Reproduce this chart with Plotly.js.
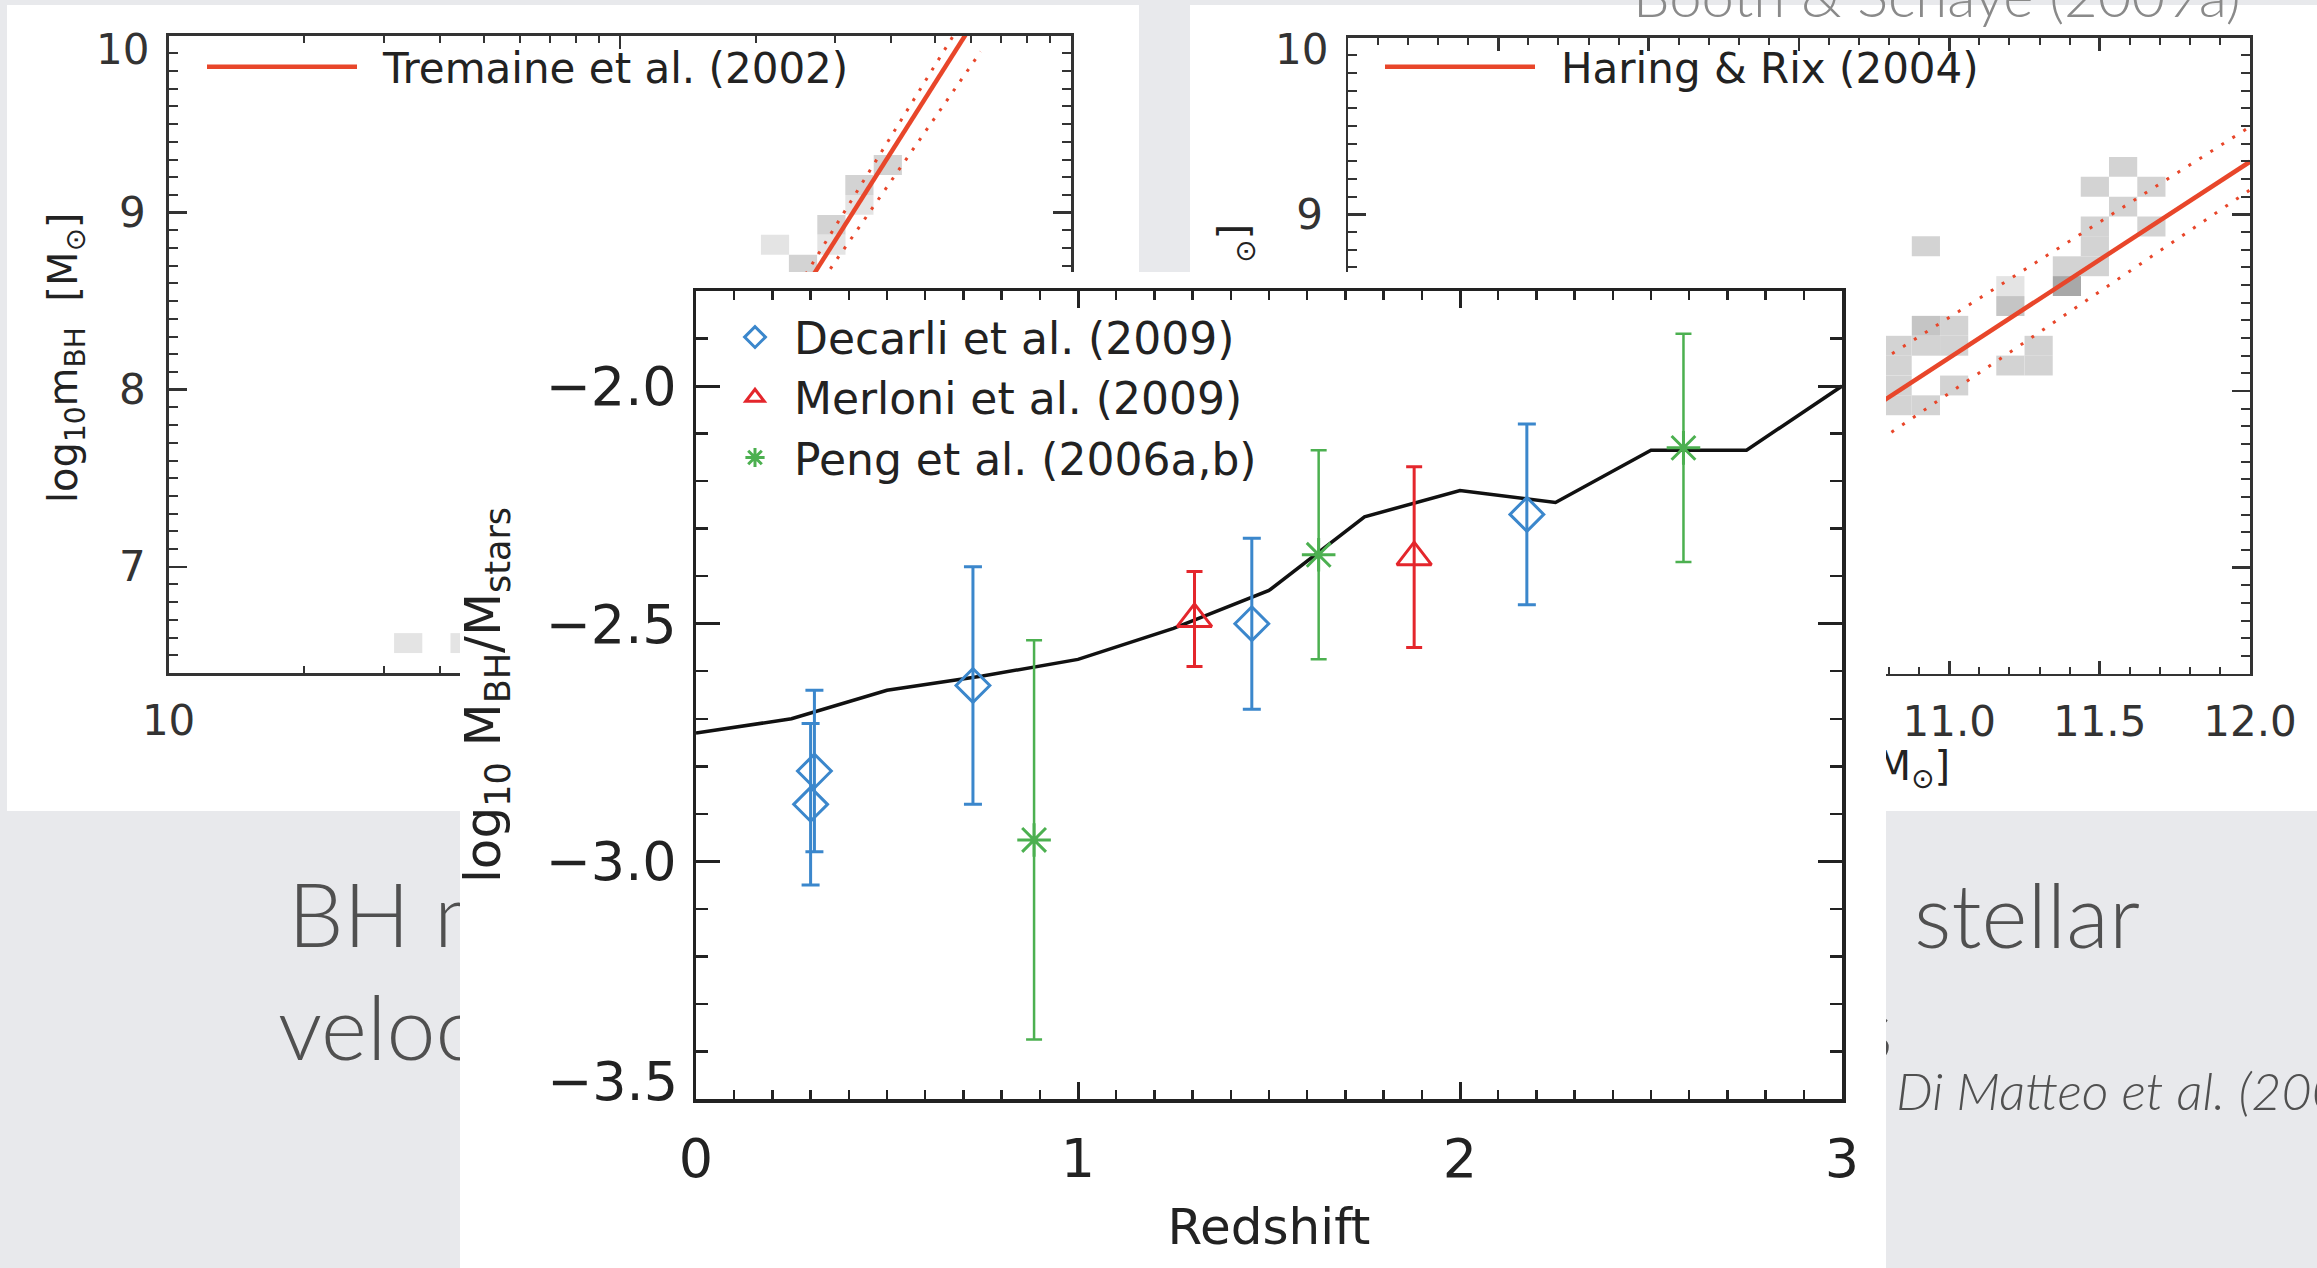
<!DOCTYPE html>
<html><head><meta charset="utf-8">
<script src="https://cdn.plot.ly/plotly-3.0.1.min.js"></script>
<style>html,body{margin:0;padding:0;background:#e8e9ec;overflow:hidden}</style>
</head><body><div id="chart" style="width:2317px;height:1268px"></div>
<script>
// ---------- main chart: BH / stellar mass ratio vs redshift ----------
const modelZ      = [0, 0.25, 0.5, 0.75, 1.0, 1.25, 1.5, 1.75, 2.0, 2.25, 2.5, 2.75, 3.0];
const modelRatio  = [-2.73, -2.70, -2.64, -2.61, -2.575, -2.51, -2.43, -2.275, -2.22, -2.245, -2.135, -2.135, -2.00];
const decarliZ     = [0.31, 0.30, 0.725, 1.455, 2.175];
const decarliRatio = [-2.81, -2.88, -2.63, -2.50, -2.27];
const decarliErr   = [0.17, 0.17, 0.25, 0.18, 0.19];
const merloniZ     = [1.305, 1.88];
const merloniRatio = [-2.49, -2.36];
const merloniErr   = [0.10, 0.19];
const pengZ        = [0.885, 1.63, 2.585];
const pengRatio    = [-2.955, -2.355, -2.13];
const pengErr      = [0.42, 0.22, 0.24];
const seriesNames  = ['Decarli et al. (2009)', 'Merloni et al. (2009)', 'Peng et al. (2006a,b)'];
const ratioTickVals = [-3.5, -3.0, -2.5, -2.0];
const ratioTickText = ['', '−3.0', '−2.5', '−2.0'];   // bottom label is lifted above the axis, as in the original

// ---------- background panel (left): M_BH - sigma ----------
const tremaineLogSigma = [2.30, 2.80];
const tremaineLogMbh   = [8.13, 10.14];
const tremaineUpper    = [8.19, 10.25];
const tremaineLower    = [8.07, 9.91];
const leftBinLogSigma  = [2.344, 2.406, 2.469, 2.469, 2.531, 2.531, 2.594, 1.531, 1.656];
const leftBinLogMbh    = [8.819, 8.706, 8.931, 8.819, 9.156, 9.044, 9.269, 6.569, 6.569];
const leftBinLevel     = [1, 2, 2, 1, 2, 1, 2, 1, 1];
const sigmaTickVals    = [1, 2, 3];
const sigmaTickText    = ['10', '', ''];               // 100 and 1000 lie under the front figure
const sigmaMinorTicks  = [1.30103, 1.47712, 1.60206, 1.69897, 1.77815, 1.84510, 1.90309, 1.95424,
                          2.30103, 2.47712, 2.60206, 2.69897, 2.77815, 2.84510, 2.90309, 2.95424];
const mbhTickVals      = [7, 8, 9, 10];
const mbhTickTextLeft  = ['7', '8', '9', ''];
const mbhTickTextRight = ['', '', '9', ''];

// ---------- background panel (right): M_BH - M_bulge ----------
const haringLogMbulge = [10.7, 12.0];
const haringLogMbh    = [7.855, 9.298];
const haringUpper     = [8.093, 9.496];
const haringLower     = [7.643, 9.138];
const rightBinLogMstar = [11.578, 11.484, 11.672, 11.578, 11.484, 11.484, 11.484, 11.672, 11.391, 11.391,
                          11.203, 11.203, 10.922, 11.016, 11.016, 10.922, 10.828, 10.828, 10.828, 10.922,
                          11.297, 11.297, 11.203, 11.016, 10.828, 10.922];
const rightBinLogMbh   = [9.269, 9.156, 9.156, 9.044, 8.931, 8.819, 8.706, 8.931, 8.706, 8.594,
                          8.594, 8.481, 8.369, 8.369, 8.256, 8.256, 8.256, 8.144, 8.031, 8.819,
                          8.256, 8.144, 8.144, 8.031, 7.919, 7.919];
const rightBinLevel    = [2, 2, 2, 2, 2, 2, 2, 2, 2, 4,
                          1, 3, 3, 2, 2, 2, 2, 2, 2, 2,
                          2, 2, 2, 2, 2, 2];
const mstarTickVals = [9.0, 9.5, 10.0, 10.5, 11.0, 11.5, 12.0];
const mstarTickText = ['', '', '', '', '11.0', '11.5', '12.0'];

// ---------- slide text ----------
const slideText = ['BH mass', 'velocity', 's stellar', 's'];
const slideX    = [288, 278, 2140, 1893];
const slideY    = [925, 1038, 926, 1038];
const slidePos  = ['middle right', 'middle right', 'middle left', 'middle left'];

// ---------- geometry / style ----------
const W = 2317, H = 1268;
const F = 'DejaVu Sans, Liberation Sans, sans-serif';
const INK = '#222';
const BLUE = '#3b87cc', RED = '#e4262c', GREEN = '#4cb050', FIT = '#e8462a';
const binH = 0.1125, leftBinW = 0.0625, rightBinW = 0.09375;
const grayScale = [[0, '#e4e4e4'], [0.3333, '#d3d3d3'], [0.6667, '#c5c5c5'], [1, '#a8a8a8']];
const SP = '\u2002';

const traces = [];
// slide text (pixel space, drawn first so the figure cards cover it)
traces.push({type:'scatter', mode:'text', x:slideX, y:slideY, text:slideText, textposition:slidePos,
  textfont:{family:'Lato, Open Sans, sans-serif', size:88, weight:300, color:'#505050'},
  cliponaxis:false, hoverinfo:'skip', showlegend:false, xaxis:'x', yaxis:'y'});
traces.push({type:'scatter', mode:'text', x:[1896], y:[1097], text:['Di Matteo et al. (2008)'], textposition:'middle right',
  textfont:{family:'Lato, Open Sans, sans-serif', size:52, weight:300, style:'italic', color:'#505050'},
  cliponaxis:false, hoverinfo:'skip', showlegend:false, xaxis:'x', yaxis:'y'});
traces.push({type:'scatter', mode:'text', x:[1950], y:[770], text:['log<sub>10</sub>m<sub>*</sub>  [M<sub>⊙</sub>]'], textposition:'middle left',
  textfont:{family:F, size:40, color:INK},
  cliponaxis:false, hoverinfo:'skip', showlegend:false, xaxis:'x', yaxis:'y'});

// left panel
traces.push({type:'bar', x:leftBinLogSigma, y:leftBinLogMbh.map(() => binH), base:leftBinLogMbh.map(v => v - binH/2),
  width:leftBinW, marker:{color:leftBinLevel, colorscale:grayScale, cmin:1, cmax:4, line:{width:0}},
  hoverinfo:'skip', showlegend:false, xaxis:'x2', yaxis:'y2'});
traces.push({type:'scatter', mode:'lines', x:tremaineLogSigma, y:tremaineUpper, line:{color:FIT, width:3, dash:'3px,9px'},
  hoverinfo:'skip', showlegend:false, xaxis:'x2', yaxis:'y2'});
traces.push({type:'scatter', mode:'lines', x:tremaineLogSigma, y:tremaineLower, line:{color:FIT, width:3, dash:'3px,9px'},
  hoverinfo:'skip', showlegend:false, xaxis:'x2', yaxis:'y2'});
traces.push({type:'scatter', mode:'lines', x:tremaineLogSigma, y:tremaineLogMbh, line:{color:FIT, width:4.5},
  name:SP + 'Tremaine et al. (2002)', legend:'legend2', hoverinfo:'skip', xaxis:'x2', yaxis:'y2'});

// right panel
traces.push({type:'bar', x:rightBinLogMstar, y:rightBinLogMbh.map(() => binH), base:rightBinLogMbh.map(v => v - binH/2),
  width:rightBinW, marker:{color:rightBinLevel, colorscale:grayScale, cmin:1, cmax:4, line:{width:0}},
  hoverinfo:'skip', showlegend:false, xaxis:'x3', yaxis:'y3'});
traces.push({type:'scatter', mode:'lines', x:haringLogMbulge, y:haringUpper, line:{color:FIT, width:3, dash:'3px,10px'},
  hoverinfo:'skip', showlegend:false, xaxis:'x3', yaxis:'y3'});
traces.push({type:'scatter', mode:'lines', x:haringLogMbulge, y:haringLower, line:{color:FIT, width:3, dash:'3px,10px'},
  hoverinfo:'skip', showlegend:false, xaxis:'x3', yaxis:'y3'});
traces.push({type:'scatter', mode:'lines', x:haringLogMbulge, y:haringLogMbh, line:{color:FIT, width:4.5},
  name:SP + 'Haring & Rix (2004)', legend:'legend3', hoverinfo:'skip', xaxis:'x3', yaxis:'y3'});

// white figure card (subplot x4y4 only holds the card shape)
traces.push({type:'scatter', mode:'markers', x:[], y:[], hoverinfo:'skip', showlegend:false, xaxis:'x4', yaxis:'y4'});

// main chart
traces.push({type:'scatter', mode:'lines', x:modelZ, y:modelRatio, line:{color:'#111', width:3.5},
  hoverinfo:'skip', showlegend:false, xaxis:'x5', yaxis:'y5'});
traces.push({type:'scatter', mode:'markers', x:decarliZ, y:decarliRatio, name:seriesNames[0],
  marker:{symbol:'diamond-open', size:26, color:BLUE, line:{color:BLUE, width:3}},
  error_y:{type:'data', array:decarliErr, visible:true, color:BLUE, thickness:3, width:9},
  hoverinfo:'skip', xaxis:'x5', yaxis:'y5'});
traces.push({type:'scatter', mode:'markers', x:merloniZ, y:merloniRatio, name:seriesNames[1],
  marker:{symbol:'triangle-up-open', size:30, color:RED, line:{color:RED, width:3}},
  error_y:{type:'data', array:merloniErr, visible:true, color:RED, thickness:3, width:8},
  hoverinfo:'skip', xaxis:'x5', yaxis:'y5'});
traces.push({type:'scatter', mode:'markers', x:pengZ, y:pengRatio, name:seriesNames[2],
  marker:{symbol:'asterisk-open', size:28, color:GREEN, line:{color:GREEN, width:3}},
  error_y:{type:'data', array:pengErr, visible:true, color:GREEN, thickness:2.5, width:8},
  hoverinfo:'skip', xaxis:'x5', yaxis:'y5'});

const pixAxis = (len, rev) => ({domain:[0,1], range: rev ? [len, 0] : [0, len], visible:false, fixedrange:true, showgrid:false, zeroline:false});
const bgAxisCommon = {showline:true, linewidth:2.5, linecolor:'#333', mirror:'ticks', ticks:'inside', tickcolor:'#333',
  tickwidth:2.5, showgrid:false, zeroline:false, tickfont:{family:F, size:42, color:'#333'}, fixedrange:true};
const mainAxisCommon = {showline:true, linewidth:3.5, linecolor:INK, mirror:'ticks', ticks:'inside', tickcolor:INK,
  tickwidth:3, showgrid:false, zeroline:false, tickfont:{family:F, size:54, color:INK}, fixedrange:true};

const annoFont = {family:F, size:42, color:'#333'};
const layout = {
  width:W, height:H, margin:{l:0, r:0, t:0, b:0, pad:0},
  paper_bgcolor:'#e8e9ec', plot_bgcolor:'rgba(0,0,0,0)',
  hovermode:false, showlegend:true, font:{family:F, color:INK},
  xaxis: pixAxis(W, false), yaxis: Object.assign(pixAxis(H, true), {anchor:'x'}),
  xaxis2: Object.assign({}, bgAxisCommon, {domain:[168.6/W, 1071/W], anchor:'y2', range:[1, 3],
    tickmode:'array', tickvals:sigmaTickVals, ticktext:sigmaTickText, ticklen:13, ticklabelstandoff:9,
    minor:{ticks:'inside', tickmode:'array', tickvals:sigmaMinorTicks, ticklen:7, tickwidth:2, tickcolor:'#333', showgrid:false}}),
  yaxis2: Object.assign({}, bgAxisCommon, {domain:[1-673/H, 1-35.6/H], anchor:'x2', range:[6.4, 10],
    tickmode:'array', tickvals:mbhTickVals, ticktext:mbhTickTextLeft, ticklen:18, ticklabelstandoff:12,
    minor:{ticks:'inside', dtick:0.1, ticklen:9, tickwidth:2, tickcolor:'#333', showgrid:false}}),
  xaxis3: Object.assign({}, bgAxisCommon, {domain:[1348/W, 2250/W], anchor:'y3', range:[9, 12],
    tickmode:'array', tickvals:mstarTickVals, ticktext:mstarTickText, ticklen:13, ticklabelstandoff:9,
    minor:{ticks:'inside', dtick:0.1, ticklen:7, tickwidth:2, tickcolor:'#333', showgrid:false}}),
  yaxis3: Object.assign({}, bgAxisCommon, {domain:[1-673.6/H, 1-37.7/H], anchor:'x3', range:[6.4, 10],
    tickmode:'array', tickvals:mbhTickVals, ticktext:mbhTickTextRight, ticklen:18, ticklabelstandoff:14,
    minor:{ticks:'inside', dtick:0.1, ticklen:9, tickwidth:2, tickcolor:'#333', showgrid:false}}),
  xaxis4: Object.assign(pixAxis(W, false), {anchor:'y4'}),
  yaxis4: Object.assign(pixAxis(H, true), {anchor:'x4'}),
  xaxis5: Object.assign({}, mainAxisCommon, {domain:[696/W, 1842/W], anchor:'y5', range:[0, 3],
    tick0:0, dtick:1, ticklen:17, ticklabelstandoff:10,
    minor:{ticks:'inside', dtick:0.1, ticklen:9, tickwidth:2.5, tickcolor:INK, showgrid:false},
    title:{text:'Redshift', font:{family:F, size:50, color:INK}, standoff:20}}),
  yaxis5: Object.assign({}, mainAxisCommon, {domain:[1-1099/H, 1-291/H], anchor:'x5', range:[-3.5, -1.8],
    tickmode:'array', tickvals:ratioTickVals, ticktext:ratioTickText, ticklen:24, ticklabelstandoff:5,
    minor:{ticks:'inside', dtick:0.1, ticklen:12, tickwidth:2.5, tickcolor:INK, showgrid:false},
    title:{text:'log<sub>10</sub> M<sub>BH</sub>/M<sub>stars</sub>', font:{family:F, size:50, color:INK}, standoff:30}}),
  legend: {x:716/W, y:1-302/H, xanchor:'left', yanchor:'top', bgcolor:'rgba(0,0,0,0)', borderwidth:0,
    itemwidth:68, font:{family:F, size:44, color:INK}, tracegroupgap:0},
  legend2: {x:202/W, y:1-33/H, xanchor:'left', yanchor:'top', bgcolor:'rgba(0,0,0,0)', borderwidth:0,
    itemwidth:150, font:{family:F, size:42, color:INK}},
  legend3: {x:1380/W, y:1-33/H, xanchor:'left', yanchor:'top', bgcolor:'rgba(0,0,0,0)', borderwidth:0,
    itemwidth:150, font:{family:F, size:42, color:INK}},
  shapes: [
    {type:'rect', xref:'paper', yref:'paper', x0:7/W, x1:1139/W, y0:1-811/H, y1:1-5/H, fillcolor:'#ffffff', line:{width:0}, layer:'below'},
    {type:'rect', xref:'paper', yref:'paper', x0:1190/W, x1:1, y0:1-811/H, y1:1-5/H, fillcolor:'#ffffff', line:{width:0}, layer:'below'},
    {type:'rect', xref:'x4', yref:'y4', x0:460, x1:1886, y0:272, y1:1270, fillcolor:'#ffffff', line:{width:0}, layer:'below'}
  ],
  annotations: [
    {xref:'paper', yref:'paper', x:66/W, y:1-358/H, xanchor:'center', yanchor:'middle',
     text:'log<sub>10</sub>m<sub>BH</sub>  [M<sub>⊙</sub>]', textangle:-90, showarrow:false, font:{family:F, size:40, color:INK}},
    {xref:'paper', yref:'paper', x:1236/W, y:1-244/H, xanchor:'center', yanchor:'middle',
     text:'<sub>⊙</sub>]', textangle:-90, showarrow:false, font:{family:F, size:40, color:INK}},
    {xref:'paper', yref:'paper', x:151/W, y:1-50/H, xanchor:'right', yanchor:'middle', text:'10', showarrow:false, font:annoFont},
    {xref:'paper', yref:'paper', x:1330/W, y:1-50/H, xanchor:'right', yanchor:'middle', text:'10', showarrow:false, font:annoFont},
    {xref:'paper', yref:'paper', x:680/W, y:1-1081/H, xanchor:'right', yanchor:'middle', text:'−3.5', showarrow:false,
     font:{family:F, size:54, color:INK}},
    {xref:'paper', yref:'paper', x:1937/W, y:1-31/H, xanchor:'center', yanchor:'bottom', text:'Booth & Schaye (2009a)', showarrow:false,
     font:{family:'Lato, Open Sans, sans-serif', size:58, weight:300, color:'#8a8a8a'}}
  ]
};

Plotly.newPlot('chart', traces, layout, {staticPlot:true, displayModeBar:false});
</script></body></html>
